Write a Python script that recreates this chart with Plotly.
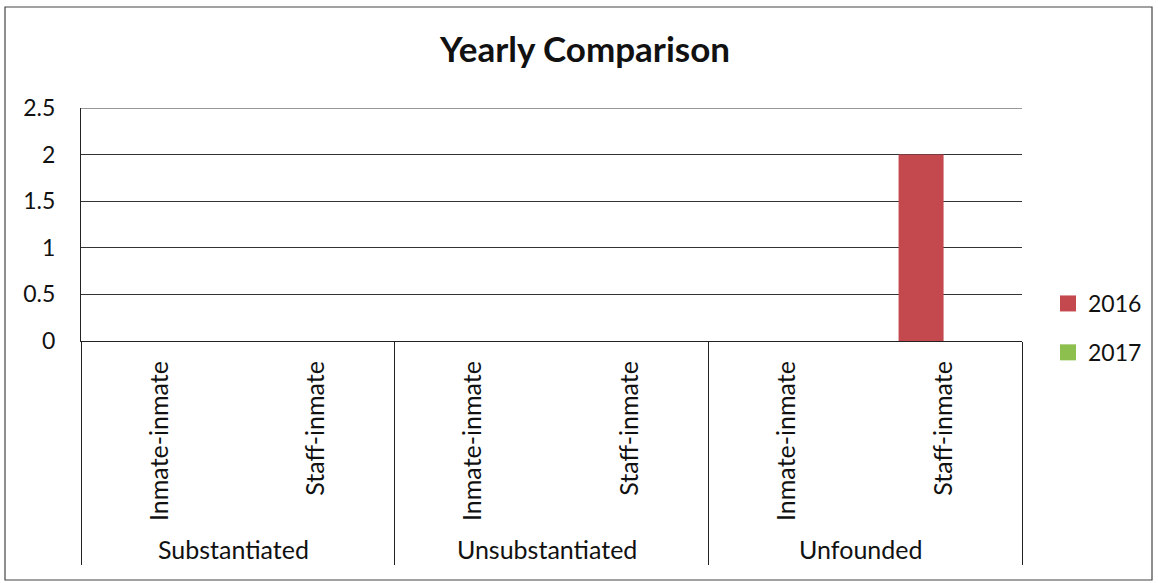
import plotly.graph_objects as go

outcomes = ["Substantiated", "Substantiated", "Unsubstantiated", "Unsubstantiated", "Unfounded", "Unfounded"]
types = ["Inmate-inmate", "Staff-inmate", "Inmate-inmate", "Staff-inmate", "Inmate-inmate", "Staff-inmate"]
values_2016 = [0, 0, 0, 0, 0, 2]
values_2017 = [0, 0, 0, 0, 0, 0]
series_names = ["2016", "2017"]
series_colors = ["#C4494F", "#8DBF4E"]
y_ticks = [0, 0.5, 1, 1.5, 2, 2.5]
y_ticklabels = ["0", "0.5", "1", "1.5", "2", "2.5"]

W, H = 1158, 583
L, R, T, B = 81, 1022, 108, 341
FONT = "Lato"
FS = 23

fig = go.Figure()
for name, vals, col in zip(series_names, [values_2016, values_2017], series_colors):
    fig.add_trace(go.Bar(x=[outcomes, types], y=vals, name=name,
                         marker=dict(color=col, line=dict(width=0)), showlegend=False))
# legend-only entries with larger square swatches
for name, col in zip(series_names, series_colors):
    fig.add_trace(go.Scatter(x=[None], y=[None], mode="markers", name=name,
                             marker=dict(symbol="square", size=17, color=col),
                             legendgroup=name, showlegend=True, hoverinfo="skip"))

def px_x(p):
    return (p - L) / (R - L)

def px_y(p):
    return (B - p) / (B - T)

fig.update_layout(
    width=W, height=H,
    margin=dict(l=L, r=W - R, t=T, b=H - B, autoexpand=False),
    paper_bgcolor="white", plot_bgcolor="white",
    font=dict(family=FONT, size=FS, color="#111111"),
    title=dict(text="<b>Yearly Comparison</b>", x=585 / W, xanchor="center",
               y=1 - 50 / H, yanchor="middle", font=dict(size=35, family=FONT, color="#111111")),
    barmode="group", bargap=0.426, bargroupgap=0.0,
    showlegend=True,
    legend=dict(x=px_x(1048), y=px_y(282), xanchor="left", yanchor="top",
                font=dict(size=FS, family=FONT), traceorder="grouped", tracegroupgap=16,
                itemwidth=30, itemsizing="trace", bgcolor="rgba(0,0,0,0)"),
    xaxis=dict(type="multicategory", showline=True, linecolor="#222222", linewidth=1.2,
               tickangle=-90, ticks="", showdividers=True, dividercolor="#222222", dividerwidth=1.2,
               ticklabelstandoff=9,
               tickfont=dict(size=25, family=FONT), showgrid=False, mirror=False),
    yaxis=dict(range=[0, 2.5], tickvals=y_ticks, ticktext=y_ticklabels, showgrid=True,
               gridcolor="#333333", gridwidth=1, showline=True, linecolor="#222222", linewidth=1.2,
               zeroline=False, ticks="", ticklabelstandoff=20, tickfont=dict(size=FS, family=FONT)),
    shapes=[dict(type="rect", xref="paper", yref="paper",
                 x0=px_x(5), x1=px_x(1152), y0=px_y(580), y1=px_y(7),
                 line=dict(color="#444444", width=1.2), fillcolor="rgba(0,0,0,0)", layer="below"),
            dict(type="line", xref="paper", yref="y", x0=0, x1=1,
                 y0=max(y_ticks), y1=max(y_ticks), line=dict(color="#333333", width=1))],
)

fig.write_html("out.html", config={"displayModeBar": False},
               post_script="document.body.style.margin='0';")
